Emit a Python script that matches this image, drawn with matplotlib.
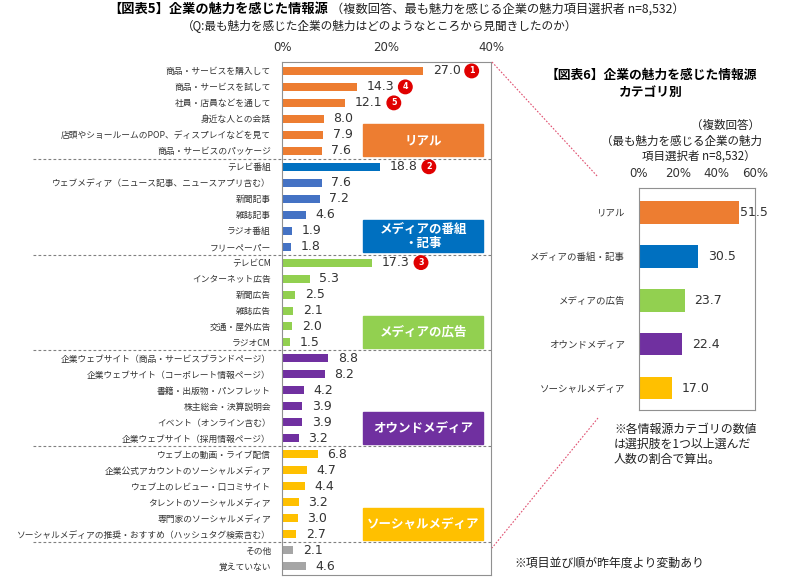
import numpy as np
import matplotlib
matplotlib.use('Agg')
import matplotlib.pyplot as plt
from matplotlib.patches import Rectangle
from matplotlib.lines import Line2D

plt.rcParams['font.family'] = ['Noto Sans CJK JP', 'DejaVu Sans']

# ---- data ----
labels = ['商品・サービスを購入して', '商品・サービスを試して', '社員・店員などを通して',
          '身近な人との会話', '店頭やショールームのPOP、ディスプレイなどを見て', '商品・サービスのパッケージ',
          'テレビ番組', 'ウェブメディア（ニュース記事、ニュースアプリ含む）', '新聞記事', '雑誌記事',
          'ラジオ番組', 'フリーペーパー',
          'テレビCM', 'インターネット広告', '新聞広告', '雑誌広告', '交通・屋外広告', 'ラジオCM',
          '企業ウェブサイト（商品・サービスブランドページ）', '企業ウェブサイト（コーポレート情報ページ）',
          '書籍・出版物・パンフレット', '株主総会・決算説明会', 'イベント（オンライン含む）',
          '企業ウェブサイト（採用情報ページ）',
          'ウェブ上の動画・ライブ配信', '企業公式アカウントのソーシャルメディア', 'ウェブ上のレビュー・口コミサイト',
          'タレントのソーシャルメディア', '専門家のソーシャルメディア',
          'ソーシャルメディアの推奨・おすすめ（ハッシュタグ検索含む）',
          'その他', '覚えていない']
values = [27.0, 14.3, 12.1, 8.0, 7.9, 7.6,
          18.8, 7.6, 7.2, 4.6, 1.9, 1.8,
          17.3, 5.3, 2.5, 2.1, 2.0, 1.5,
          8.8, 8.2, 4.2, 3.9, 3.9, 3.2,
          6.8, 4.7, 4.4, 3.2, 3.0, 2.7,
          2.1, 4.6]
group_of = [0]*6 + [1]*6 + [2]*6 + [3]*6 + [4]*6 + [5]*2
ranks = {0: '1', 1: '4', 2: '5', 6: '2', 12: '3'}

cat_names = ['リアル', 'メディアの番組・記事', 'メディアの広告', 'オウンドメディア', 'ソーシャルメディア']
box_names = ['リアル', 'メディアの番組\n・記事', 'メディアの広告', 'オウンドメディア', 'ソーシャルメディア']
cat_values = [51.5, 30.5, 23.7, 22.4, 17.0]

colors = ['#ED7D31', '#4472C4', '#92D050', '#7030A0', '#FFC000', '#A5A5A5']
cat_colors = ['#ED7D31', '#0070C0', '#92D050', '#7030A0', '#FFC000']

txt = '#333333'
W, H = 800, 580
fig = plt.figure(figsize=(8, 5.8), dpi=100)

def fx(px):
    return px / W

def fy(py):
    return 1 - py / H

# ---- left chart ----
ax = fig.add_axes([fx(282), fy(575), fx(491) - fx(282), fy(62) - fy(575)])
y = np.arange(len(values))
bar_cols = [colors[g] for g in group_of]
bar_cols[6] = '#0070C0'
ax.barh(y, values, height=0.5, color=bar_cols)
ax.set_xlim(0, 40)
ax.set_ylim(len(values) - 0.44, -0.56)
ax.set_yticks(y)
ax.set_yticklabels(labels, fontsize=6.3, color=txt)
ax.set_xticks([0, 20, 40])
ax.set_xticklabels(['0%', '20%', '40%'], fontsize=8.5, color=txt, family='DejaVu Sans')
ax.xaxis.tick_top()
ax.tick_params(axis='y', length=0, pad=8)
ax.tick_params(axis='x', length=0, pad=6)
for s in ax.spines.values():
    s.set_color('#909090')
    s.set_linewidth(0.8)

for i, v in enumerate(values):
    ax.annotate('%.1f' % v, (v, i), xytext=(7, 0), textcoords='offset points',
                va='center', ha='left', fontsize=9, color=txt, family='DejaVu Sans')
    if i in ranks:
        ax.annotate(ranks[i], (v, i), xytext=(35, 0), textcoords='offset points',
                    va='center', ha='center', fontsize=5.8, color='white', weight='bold',
                    family='DejaVu Sans',
                    bbox=dict(boxstyle='circle,pad=0.28', fc='#E00000', ec='#E00000'))

# dashed separators
for b in [5.5, 11.5, 17.5, 23.5, 29.5]:
    ax.plot([-1.19, 1.0], [b, b], transform=ax.get_yaxis_transform(), clip_on=False,
            ls=(0, (2.5, 2)), color='#808080', lw=0.8)

# category boxes
for k, name in enumerate(box_names):
    top = 6 * k + 3.35
    ax.add_patch(Rectangle((15.5, top), 23, 2.0, color=cat_colors[k], zorder=3))
    ax.text(27, top + 1.0, name, ha='center', va='center', color='white',
            fontsize=9, weight='bold', zorder=4, linespacing=1.1)

# ---- right chart ----
ax2 = fig.add_axes([fx(639), fy(410), fx(755) - fx(639), fy(188) - fy(410)])
y2 = np.arange(len(cat_values))
ax2.barh(y2, cat_values, height=0.52, color=cat_colors)
ax2.set_xlim(0, 60)
ax2.set_ylim(len(cat_values) - 0.5, -0.55)
ax2.set_yticks(y2)
ax2.set_yticklabels(cat_names, fontsize=6.8, color=txt)
ax2.set_xticks([0, 20, 40, 60])
ax2.set_xticklabels(['0%', '20%', '40%', '60%'], fontsize=8.5, color=txt, family='DejaVu Sans')
ax2.xaxis.tick_top()
ax2.tick_params(axis='y', length=0, pad=10)
ax2.tick_params(axis='x', length=0, pad=6)
for s in ax2.spines.values():
    s.set_color('#909090')
    s.set_linewidth(0.8)
for i, v in enumerate(cat_values):
    off = 1 if i == 0 else 7
    ax2.annotate('%.1f' % v, (v, i), xytext=(off, 0), textcoords='offset points',
                 va='center', ha='left', fontsize=9, color=txt, family='DejaVu Sans')

# ---- titles / notes ----
fig.text(fx(108), fy(9), '【図表5】企業の魅力を感じた情報源', fontsize=9.5, weight='bold',
         va='center', ha='left')
fig.text(fx(331), fy(9), '（複数回答、最も魅力を感じる企業の魅力項目選択者 n=8,532）', fontsize=8.8,
         va='center', ha='left', color='#202020')
fig.text(fx(380), fy(26), '（Q:最も魅力を感じた企業の魅力はどのようなところから見聞きしたのか）',
         fontsize=8.4, va='center', ha='center', color='#202020')

fig.text(fx(651), fy(75), '【図表6】企業の魅力を感じた情報源', fontsize=9.2, weight='bold',
         va='center', ha='center')
fig.text(fx(651), fy(92), 'カテゴリ別', fontsize=9.2, weight='bold', va='center', ha='center')
fig.text(fx(760), fy(125), '（複数回答）', fontsize=8.3, va='center', ha='right', color='#202020')
fig.text(fx(762), fy(141), '（最も魅力を感じる企業の魅力', fontsize=8.3, va='center', ha='right',
         color='#202020')
fig.text(fx(756), fy(156), '項目選択者 n=8,532）', fontsize=8.3, va='center', ha='right',
         color='#202020')

fig.text(fx(614), fy(444), '※各情報源カテゴリの数値\nは選択肢を1つ以上選んだ\n人数の割合で算出。',
         fontsize=8.6, va='center', ha='left', color='#202020', linespacing=1.2)
fig.text(fx(514), fy(563), '※項目並び順が昨年度より変動あり', fontsize=8.6, va='center',
         ha='left', color='#202020')

# connector lines
for (x0, y0), (x1, y1) in [((492, 62), (598, 177)), ((598, 418), (492, 548))]:
    fig.add_artist(Line2D([fx(x0), fx(x1)], [fy(y0), fy(y1)], transform=fig.transFigure,
                          color='#E05070', lw=0.8, ls=(0, (1.5, 1.5))))

fig.savefig('out.png', dpi=100)
